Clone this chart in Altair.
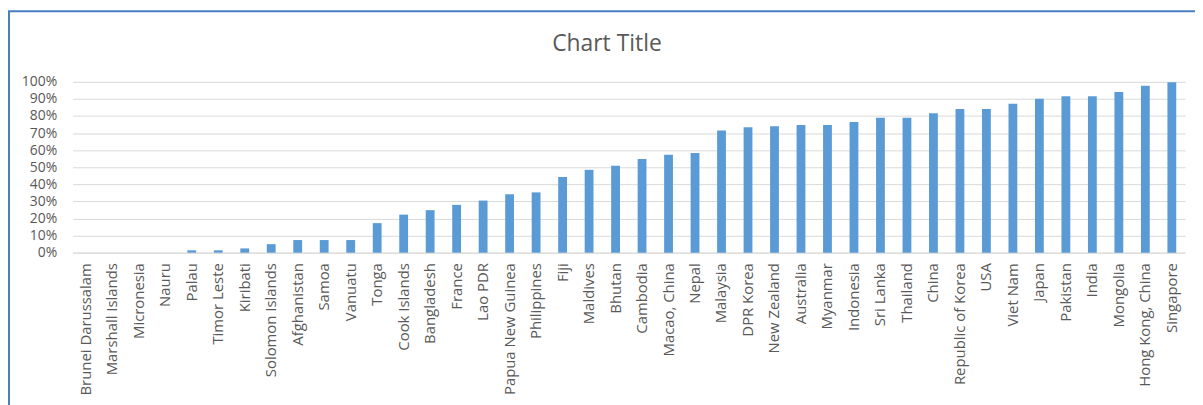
import altair as alt
import pandas as pd

countries = [
    "Brunei Darussalam", "Marshall Islands", "Micronesia", "Nauru", "Palau",
    "Timor Leste", "Kiribati", "Solomon Islands", "Afghanistan", "Samoa",
    "Vanuatu", "Tonga", "Cook Islands", "Bangladesh", "France", "Lao PDR",
    "Papua New Guinea", "Philippines", "Fiji", "Maldives", "Bhutan",
    "Cambodia", "Macao, China", "Nepal", "Malaysia", "DPR Korea",
    "New Zealand", "Australia", "Myanmar", "Indonesia", "Sri Lanka",
    "Thailand", "China", "Republic of Korea", "USA", "Viet Nam", "Japan",
    "Pakistan", "India", "Mongolia", "Hong Kong, China", "Singapore",
]
values = [
    0.0, 0.0, 0.0, 0.0, 0.014,
    0.014, 0.025, 0.050, 0.074, 0.074,
    0.074, 0.173, 0.223, 0.249, 0.280, 0.305,
    0.342, 0.353, 0.443, 0.485, 0.509,
    0.548, 0.573, 0.584, 0.715, 0.734,
    0.740, 0.748, 0.748, 0.765, 0.790,
    0.790, 0.816, 0.841, 0.841, 0.872, 0.901,
    0.915, 0.915, 0.940, 0.977, 0.998,
]
title_text = ["Chart Title"]

df = pd.DataFrame({"country": countries, "value": values})
tdf = pd.DataFrame({"t": title_text})

FONT = "Open Sans"
GRAY = "#595959"

bars = alt.Chart(df).mark_bar(color="#5B9BD5").encode(
    x=alt.X(
        "country:N",
        sort=countries,
        title=None,
        scale=alt.Scale(paddingInner=0.667, paddingOuter=0.333),
        axis=alt.Axis(
            labelAngle=270,
            labelFont=FONT,
            labelFontSize=15,
            labelColor=GRAY,
            labelPadding=10,
            ticks=False,
            domainColor="#D9D9D9",
            labelOverlap=False,
        ),
    ),
    y=alt.Y(
        "value:Q",
        title=None,
        scale=alt.Scale(domain=[0, 1], nice=False),
        axis=alt.Axis(
            format=".0%",
            values=[i / 10 for i in range(11)],
            labelFont=FONT,
            labelFontSize=14,
            labelColor=GRAY,
            labelPadding=16,
            ticks=False,
            domain=False,
            gridColor="#D9D9D9",
        ),
    ),
)

title = alt.Chart(tdf).mark_text(
    font=FONT, fontSize=23, color=GRAY, align="center", baseline="alphabetic"
).encode(text="t:N", x=alt.value(538), y=alt.value(-31))

border_left = alt.Chart(tdf).mark_rule(color="#4A7EC2", strokeWidth=2).encode(
    x=alt.value(-64), y=alt.value(-71), y2=alt.value(400)
)
border_top = alt.Chart(tdf).mark_rule(color="#4A7EC2", strokeWidth=2).encode(
    x=alt.value(-65), x2=alt.value(1140), y=alt.value(-71)
)

chart = alt.layer(bars, title, border_left, border_top).properties(
    width=1120,
    height=172,
    autosize=alt.AutoSizeParams(type="none"),
    padding={"left": 65, "top": 73, "right": 10, "bottom": 152},
).configure_view(stroke=None)

chart.save("out.html", embed_options={"renderer": "svg", "actions": False})
